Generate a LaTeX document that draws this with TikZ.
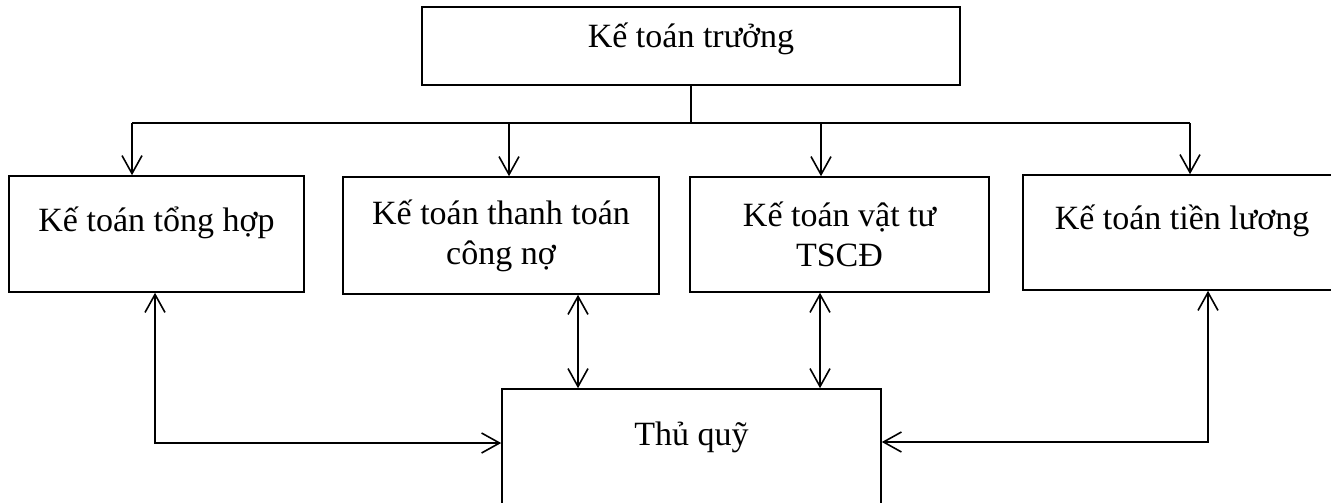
\documentclass[tikz,border=0pt]{standalone}
\usepackage{fontspec}
\setmainfont{Liberation Serif}
\usetikzlibrary{arrows.meta,positioning}

\tikzset{
  khung/.style={draw, line width=1.2pt, align=center, inner sep=0pt,
    font=\fontsize{25.5}{30}\selectfont},
  motdong/.style={text height=12pt, text depth=16pt},
  dongtren/.style={text height=15pt, text depth=12pt},
  dongduoi/.style={text height=12pt, text depth=15pt}
}

\begin{document}
\begin{tikzpicture}[x=0.75pt,y=-0.75pt,line width=1.2pt,
  >={Straight Barb[length=13.5pt,width=15pt]}]
\path[use as bounding box,clip] (0,0) rectangle (1331,503);

\node[khung,dongtren,minimum width=403.5pt,minimum height=58.5pt] (chief) at (691,46) {Kế toán trưởng};
\node[khung,motdong,minimum width=221.25pt,minimum height=87pt] (tonghop) at (156.5,234) {Kế toán tổng hợp};
\node[khung,minimum width=237pt,minimum height=87.75pt] (thanhtoan) at (501,235.5) {Kế toán thanh toán\\công nợ};
\node[khung,minimum width=224.25pt,minimum height=86.25pt] (vattu) at (839.5,234.5) {Kế toán vật tư\\TSCĐ};
\node[khung,motdong,minimum width=238.5pt,minimum height=86.25pt] (tienluong) at (1182,232.5) {Kế toán tiền lương};
\node[khung,dongduoi,minimum width=284.25pt,minimum height=87pt] (thuquy) at (691.5,447) {Thủ quỹ};

\coordinate (busL) at (132,123);
\coordinate (busR) at (1190,123);
\coordinate (bus2) at (509,123);
\coordinate (bus3) at (821,123);
\draw (chief.south) -- (chief.south |- busL);
\draw (busL) -- (busR);
\path[->]
(busL) edge (busL |- tonghop.north)
(bus2) edge (bus2 |- thanhtoan.north)
(bus3) edge (bus3 |- vattu.north)
(busR) edge (busR |- tienluong.north);

\coordinate (gocL) at (155,443);
\coordinate (gocR) at (1208,442);
\coordinate (doc2) at (578,0);
\coordinate (doc3) at (820,0);
\draw[<->] (tonghop.south -| gocL) |- (thuquy.west |- gocL);
\draw[<->] (tienluong.south -| gocR) |- (thuquy.east |- gocR);
\draw[<->] (thanhtoan.south -| doc2) -- (thuquy.north -| doc2);
\draw[<->] (vattu.south -| doc3) -- (thuquy.north -| doc3);
\end{tikzpicture}
\end{document}
